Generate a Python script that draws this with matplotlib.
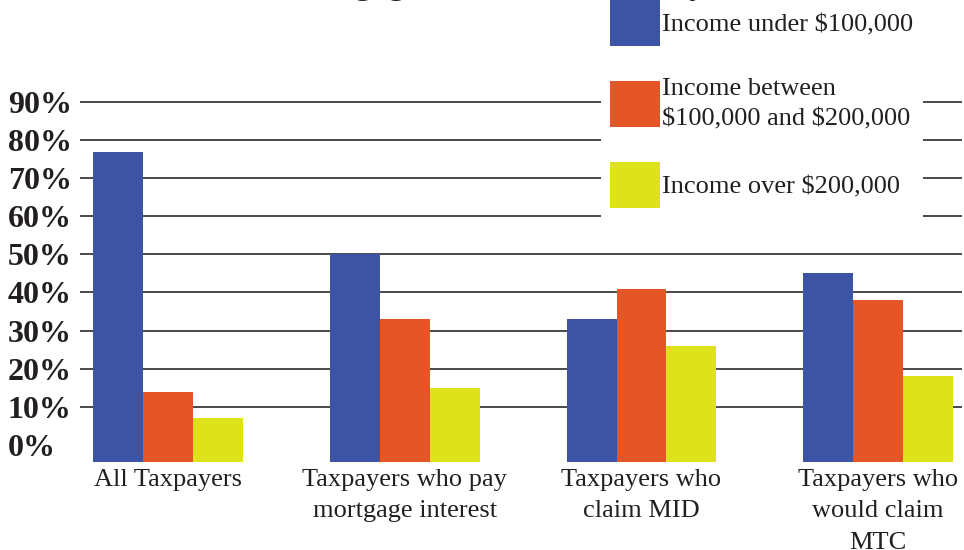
import matplotlib.pyplot as plt
import numpy as np

plt.rcParams['font.family'] = ['Liberation Serif', 'DejaVu Serif']

# data
groups = ["All Taxpayers", "Taxpayers who pay\nmortgage interest",
          "Taxpayers who\nclaim MID", "Taxpayers who\nwould claim\nMTC"]
series = ["Income under \\$100,000", "Income between\n\\$100,000 and \\$200,000",
          "Income over \\$200,000"]
under_100k = [77, 50, 33, 45]
between_100k_200k = [14, 33, 41, 38]
over_200k = [7, 15, 26, 18]
yticks = [0, 10, 20, 30, 40, 50, 60, 70, 80, 90]
ytick_labels = [f"{t}%" for t in yticks]

colors = ["#3d53a3", "#e45628", "#dee21a"]
txt = "#231f20"

fig = plt.figure(figsize=(9.64, 5.5), dpi=100)
ax = fig.add_axes([80/964, 1 - 462/550, (962 - 80)/964, (462 - 90)/550])

x = np.arange(len(groups))
w = 0.211
floor = -4.5  # bars start at the bottom of the plot, a bit below 0%
for i, (vals, lab, c) in enumerate(zip([under_100k, between_100k_200k, over_200k], series, colors)):
    vals = np.array(vals, dtype=float)
    ax.bar(x + (i - 1)*w, vals - floor, w, bottom=floor, color=c, label=lab, zorder=2)

# gridlines (none at 0%)
for t in yticks[1:]:
    ax.axhline(t, color="#3a3a3a", lw=1.3, zorder=1)

ax.set_xlim(-0.372, 3.354)
ax.set_ylim(floor, 93.15)
for s in ax.spines.values():
    s.set_visible(False)

ax.set_xticks(x)
ax.set_xticklabels(groups, fontsize=19, color=txt, linespacing=1.55, va='top')
ax.set_yticks(yticks)
ax.set_yticklabels(ytick_labels, fontsize=23, fontweight='bold', color=txt, ha='left')
ax.tick_params(axis='y', length=0, pad=52)
ax.tick_params(axis='x', length=0, pad=5)

leg = fig.legend(loc='upper left', bbox_to_anchor=(601/964, 1 + 9/550),
                 fontsize=19, handlelength=1.89, handleheight=2.3, handletextpad=0.08,
                 labelspacing=1.2, frameon=True, facecolor='white', edgecolor='none',
                 fancybox=False, borderpad=0.35, borderaxespad=0)
for t in leg.get_texts():
    t.set_color(txt)
    t.set_linespacing(1.5)
leg.get_frame().set_alpha(1)

# title sits mostly above the visible area
fig.text(62/964, 1 + 6/550, "Distribution of Mortgage Interest Benefits by Income",
         ha='left', va='baseline', fontsize=24, fontweight='bold', color=txt, zorder=6)

fig.savefig("out.png", dpi=100)
